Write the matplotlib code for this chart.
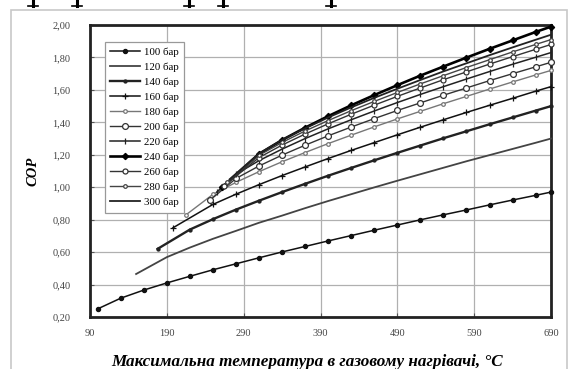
import matplotlib
matplotlib.use("Agg")
import matplotlib.pyplot as plt
from matplotlib.lines import Line2D
from matplotlib.patches import Rectangle

# pressures in the legend
labels = ["100 бар", "120 бар", "140 бар", "160 бар", "180 бар", "200 бар",
          "220 бар", "240 бар", "260 бар", "280 бар", "300 бар"]

# max temperature in gas heater, deg C, and COP for every pressure
t_100 = [100, 130, 160, 190, 220, 250, 280, 310, 340, 370, 400, 430, 460, 490, 520, 550, 580, 610, 640, 670, 690]
cop_100 = [0.25, 0.316, 0.366, 0.410, 0.451, 0.491, 0.528, 0.565, 0.601, 0.635, 0.669, 0.702, 0.735, 0.767, 0.799,
           0.830, 0.860, 0.891, 0.921, 0.950, 0.97]

t_120 = [150, 190, 220, 250, 280, 310, 340, 370, 400, 430, 460, 490, 520, 550, 580, 610, 640, 670, 690]
cop_120 = [0.465, 0.569, 0.628, 0.682, 0.731, 0.781, 0.825, 0.871, 0.915, 0.957, 0.999, 1.040, 1.080, 1.120,
           1.160, 1.198, 1.236, 1.274, 1.30]

t_140 = [178, 220, 250, 280, 310, 340, 370, 400, 430, 460, 490, 520, 550, 580, 610, 640, 670, 690]
cop_140 = [0.62, 0.739, 0.803, 0.862, 0.917, 0.970, 1.021, 1.071, 1.119, 1.166, 1.212, 1.257, 1.302, 1.345,
           1.388, 1.430, 1.472, 1.50]

t_160 = [198, 250, 280, 310, 340, 370, 400, 430, 460, 490, 520, 550, 580, 610, 640, 670, 690]
cop_160 = [0.75, 0.894, 0.957, 1.016, 1.072, 1.125, 1.177, 1.227, 1.275, 1.323, 1.370, 1.416, 1.461, 1.505,
           1.548, 1.592, 1.62]

t_180 = [215, 250, 280, 310, 340, 370, 400, 430, 460, 490, 520, 550, 580, 610, 640, 670, 690]
cop_180 = [0.83, 0.956, 1.030, 1.096, 1.157, 1.214, 1.269, 1.321, 1.372, 1.421, 1.468, 1.515, 1.560, 1.605,
           1.649, 1.692, 1.72]

t_200 = [246, 280, 310, 340, 370, 400, 430, 460, 490, 520, 550, 580, 610, 640, 670, 690]
cop_200 = [0.92, 1.054, 1.131, 1.198, 1.259, 1.317, 1.371, 1.423, 1.473, 1.520, 1.567, 1.612, 1.657, 1.700,
           1.742, 1.77]

t_220 = [255, 280, 310, 340, 370, 400, 430, 460, 490, 520, 550, 580, 610, 640, 670, 690]
cop_220 = [0.97, 1.080, 1.164, 1.235, 1.300, 1.360, 1.416, 1.470, 1.522, 1.572, 1.620, 1.667, 1.713, 1.758,
           1.801, 1.83]

t_240 = [262, 310, 340, 370, 400, 430, 460, 490, 520, 550, 580, 610, 640, 670, 690]
cop_240 = [1.00, 1.205, 1.291, 1.367, 1.438, 1.505, 1.568, 1.629, 1.688, 1.744, 1.799, 1.853, 1.905, 1.957, 1.99]

t_260 = [265, 310, 340, 370, 400, 430, 460, 490, 520, 550, 580, 610, 640, 670, 690]
cop_260 = [1.01, 1.183, 1.260, 1.328, 1.391, 1.450, 1.506, 1.560, 1.612, 1.663, 1.711, 1.759, 1.805, 1.850, 1.88]

t_280 = [268, 310, 340, 370, 400, 430, 460, 490, 520, 550, 580, 610, 640, 670, 690]
cop_280 = [1.03, 1.197, 1.276, 1.347, 1.411, 1.472, 1.529, 1.584, 1.637, 1.688, 1.738, 1.786, 1.834, 1.880, 1.91]

t_300 = [272, 310, 340, 370, 400, 430, 460, 490, 520, 550, 580, 610, 640, 670, 690]
cop_300 = [1.05, 1.208, 1.291, 1.363, 1.430, 1.492, 1.551, 1.607, 1.661, 1.714, 1.764, 1.814, 1.862, 1.909, 1.94]

x_ticks = [90, 190, 290, 390, 490, 590, 690]
y_ticks = [0.2, 0.4, 0.6, 0.8, 1.0, 1.2, 1.4, 1.6, 1.8, 2.0]

temps = [t_100, t_120, t_140, t_160, t_180, t_200, t_220, t_240, t_260, t_280, t_300]
cops = [cop_100, cop_120, cop_140, cop_160, cop_180, cop_200, cop_220, cop_240, cop_260, cop_280, cop_300]

# line look per series: color, width, marker, marker size, marker face
styles = [
    ("#111111", 1.1, "o", 3.0, "#111111"),
    ("#444444", 1.3, None, 0, None),
    ("#222222", 1.7, "o", 2.2, "#222222"),
    ("#111111", 1.1, "+", 4.0, "#111111"),
    ("#777777", 1.0, "o", 2.6, "white"),
    ("#333333", 1.0, "o", 4.2, "white"),
    ("#222222", 1.1, "|", 4.0, "#222222"),
    ("#000000", 1.9, "D", 3.2, "#000000"),
    ("#333333", 1.0, "o", 3.6, "white"),
    ("#444444", 1.0, "o", 2.6, "white"),
    ("#222222", 1.3, None, 0, None),
]

serif = ["Liberation Serif", "DejaVu Serif"]
plt.rcParams["font.family"] = serif

fig = plt.figure(figsize=(5.74, 3.69), dpi=100)
ax = fig.add_axes([90 / 574, 1 - 317 / 369, (551 - 90) / 574, (317 - 25) / 369])

for t, c, lab, st in zip(temps, cops, labels, styles):
    color, lw, mk, ms, mfc = st
    ax.plot(t, c, color=color, lw=lw, marker=mk, markersize=ms, markerfacecolor=mfc,
            markeredgecolor=color, markeredgewidth=0.9, label=lab, clip_on=False, zorder=3)

ax.set_xlim(90, 690)
ax.set_ylim(0.2, 2.0)
ax.set_xticks(x_ticks)
ax.set_yticks(y_ticks)
ax.set_yticklabels([f"{v:.2f}".replace(".", ",") for v in y_ticks])
ax.grid(True, color="#b0b0b0", lw=0.9)
ax.set_axisbelow(True)
ax.tick_params(direction="in", length=3, labelsize=7.5, colors="#555555", labelcolor="#444444")
ax.tick_params(axis="y", pad=14)
ax.tick_params(axis="x", pad=9)
for s in ax.spines.values():
    s.set_linewidth(2.0)
    s.set_color("#222222")

ax.set_xlabel("Максимальна температура в газовому нагрівачі, °С", fontsize=12.3,
              fontweight="bold", fontstyle="italic")
ax.xaxis.set_label_coords(0.47, -0.125)
ax.set_ylabel("COP", fontsize=10.5, fontweight="bold", fontstyle="italic", labelpad=9)

leg = ax.legend(loc="upper left", bbox_to_anchor=(0.02, 0.96), fontsize=7.8, frameon=True,
                fancybox=False, edgecolor="#999999", framealpha=1, handlelength=2.8,
                labelspacing=0.5, borderpad=0.5, handletextpad=0.3)
leg.get_frame().set_linewidth(0.9)

# light frame around the whole chart
fig.add_artist(Rectangle((11 / 574, -0.01), 556 / 574, 1 - 10 / 369 + 0.01, transform=fig.transFigure,
                         fill=False, edgecolor="#c8c8c8", lw=1.2))

# bottoms of letters from the text line above the chart
for px in [33, 77, 189, 223, 331]:
    fig.add_artist(Line2D([px / 574, px / 574], [1, 1 - 6 / 369], transform=fig.transFigure,
                          color="black", lw=2.2))
    fig.add_artist(Line2D([(px - 5) / 574, (px + 5) / 574], [1 - 5.5 / 369, 1 - 5.5 / 369],
                          transform=fig.transFigure, color="black", lw=1.2))

fig.savefig("out.png", dpi=100)
